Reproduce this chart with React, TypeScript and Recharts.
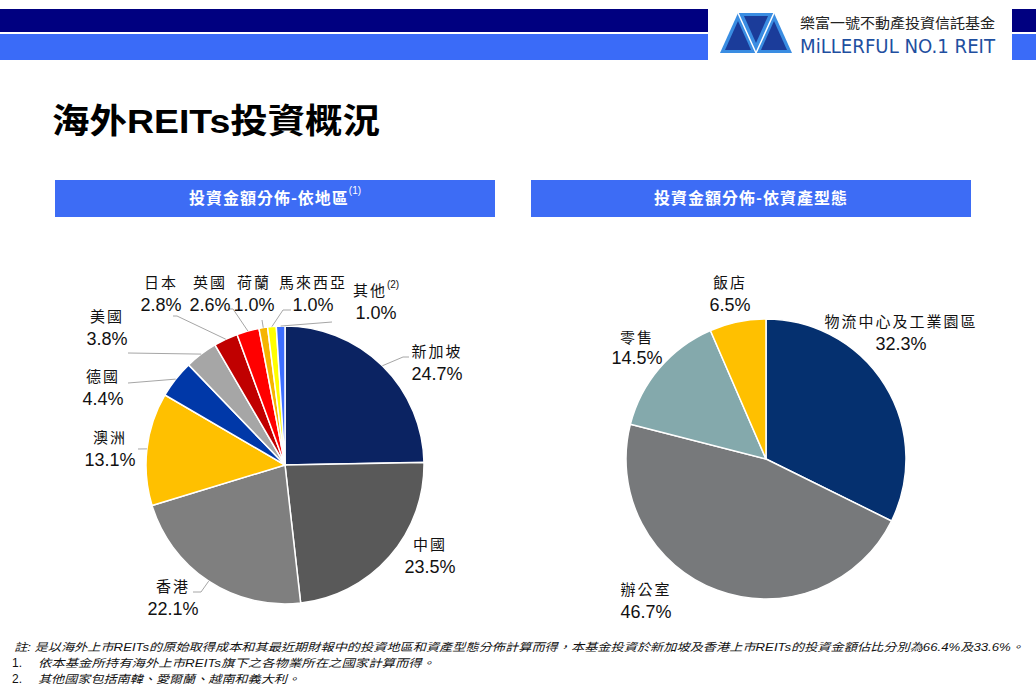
import { PieChart, Pie, Cell } from "recharts"

const regionNames = ["新加坡", "中國", "香港", "澳洲", "德國", "美國", "日本", "英國", "荷蘭", "馬來西亞", "其他"]
const regionShares = [24.7, 23.5, 22.1, 13.1, 4.4, 3.8, 2.8, 2.6, 1.0, 1.0, 1.0]
const assetNames = ["物流中心及工業園區", "辦公室", "零售", "飯店"]
const assetShares = [32.3, 46.7, 14.5, 6.5]

const regionColors = ["#0B2362", "#595959", "#7F7F7F", "#FFC000", "#0038A8", "#A6A6A6", "#C00000", "#FF0000", "#F5B400", "#FFFF00", "#3D6EFF"]
const assetColors = ["#05306F", "#77797B", "#84A9AC", "#FFC000"]

const regionData = regionNames.map((name, i) => ({ name, value: regionShares[i] }))
const assetData = assetNames.map((name, i) => ({ name, value: assetShares[i] }))

// label placement relative to the pie centre (Excel style best-fit), plus leader line bends
type LabelPos = { x: number; y: number; gap?: number; line?: number[][]; sup?: string }
const regionLabelPos: LabelPos[] = [
  { x: 152, y: -113, line: [[118, -108], [124, -108]] },
  { x: 145, y: 80 },
  { x: -112, y: 122, line: [[-84, 127], [-92, 127]] },
  { x: -175, y: -27, line: [[-147, -16]] },
  { x: -182, y: -88, line: [[-157, -82]] },
  { x: -178, y: -148, line: [[-157, -112]] },
  { x: -124, y: -182, line: [[-108, -149], [-112, -149]] },
  { x: -75, y: -182, line: [[-52, -156], [-56, -156]] },
  { x: -31, y: -182, line: [[-23, -145]] },
  { x: 28, y: -182, line: [[-2, -155], [6, -155]] },
  { x: 91, y: -174, line: [[47, -143]], sup: "(2)" },
]
const assetLabelPos: LabelPos[] = [
  { x: 135, y: -137 },
  { x: -120, y: 131 },
  { x: -129, y: -121, gap: 20 },
  { x: -36, y: -176 },
]

const CJK = "'Noto Sans CJK TC', sans-serif"
const LATIN = "'Liberation Sans', 'Noto Sans CJK TC', sans-serif"
const RAD = Math.PI / 180

function makeLabel(layout: LabelPos[]) {
  return (props: any) => {
    const { cx, cy, midAngle, outerRadius, index, name, value } = props
    const p = layout[index]
    const sx = cx + outerRadius * Math.cos(-midAngle * RAD)
    const sy = cy + outerRadius * Math.sin(-midAngle * RAD)
    const pts = [[sx, sy], ...(p.line || []).map(([dx, dy]) => [cx + dx, cy + dy])]
    const gap = p.gap ?? 22
    return (
      <g key={`lbl-${index}`}>
        {p.line && (
          <polyline
            points={pts.map((q) => q.join(",")).join(" ")}
            fill="none"
            stroke="#A6A6A6"
            strokeWidth={1}
          />
        )}
        <text x={cx + p.x} y={cy + p.y + 5} textAnchor="middle" fontFamily={CJK} fontSize={15} letterSpacing={2} fill="#111">
          {name}
          {p.sup && (
            <tspan fontFamily={LATIN} fontSize={10} dy={-8} letterSpacing={0}>
              {p.sup}
            </tspan>
          )}
        </text>
        <text x={cx + p.x} y={cy + p.y + gap + 6} textAnchor="middle" fontFamily={LATIN} fontSize={18} fill="#111">
          {value.toFixed(1)}%
        </text>
      </g>
    )
  }
}

function Decor() {
  return (
    <svg width={1036} height={688} style={{ position: "absolute", left: 0, top: 0 }}>
      {/* header bars */}
      <rect x={0} y={9} width={708} height={23} fill="#000080" />
      <rect x={0} y={34} width={708} height={26} fill="#3A6BF8" />
      <rect x={1012} y={9} width={24} height={23} fill="#000080" />
      <rect x={1012} y={34} width={24} height={26} fill="#3A6BF8" />
      {/* logo */}
      <polygon points="720,53 738,13 756,53" fill="#3A8DE2" />
      <polygon points="738,13 774,13 756,53" fill="#3A8DE2" />
      <polygon points="756,53 774,13 792,53" fill="#3A8DE2" />
      <polygon points="725,50 738,21 751,50" fill="#1B3C9A" />
      <polygon points="744,16 768,16 756,43" fill="#1B3C9A" />
      <polygon points="761,50 774,21 787,50" fill="#1B3C9A" />
      <polyline points="738,13 756,53 774,13" fill="none" stroke="#fff" strokeWidth={1.5} />
      <text x={800} y={28} fontFamily={CJK} fontSize={14} fill="#222" textLength={195} lengthAdjust="spacingAndGlyphs">
        樂富一號不動產投資信託基金
      </text>
      <text x={800} y={53} fontFamily="'DejaVu Sans Condensed', 'DejaVu Sans', sans-serif" fontSize={20} fill="#1F4FA0" textLength={195} lengthAdjust="spacingAndGlyphs">
        MiLLERFUL NO.1 REIT
      </text>
      {/* title */}
      <text x={52} y={133} fontFamily={LATIN} fontWeight={700} fontSize={34} fill="#000" textLength={328} lengthAdjust="spacingAndGlyphs">
        海外REITs投資概況
      </text>
      {/* section boxes */}
      <rect x={55} y={180} width={440} height={37} fill="#3D6CF5" />
      <text x={275} y={204} textAnchor="middle" fontFamily={CJK} fontWeight={700} fontSize={16} fill="#fff" letterSpacing={1}>
        投資金額分佈-依地區
        <tspan fontFamily={LATIN} fontWeight={400} fontSize={10} dy={-10} letterSpacing={0}>(1)</tspan>
      </text>
      <rect x={531} y={180} width={440} height={37} fill="#3D6CF5" />
      <text x={751} y={204} textAnchor="middle" fontFamily={CJK} fontWeight={700} fontSize={16} fill="#fff" letterSpacing={1}>
        投資金額分佈-依資產型態
      </text>
      {/* footnotes */}
      <text x={14} y={651} fontFamily={LATIN} fontStyle="italic" fontSize={11} fill="#111" textLength={1010} lengthAdjust="spacingAndGlyphs">
        註: 是以海外上市REITs的原始取得成本和其最近期財報中的投資地區和資產型態分佈計算而得，本基金投資於新加坡及香港上市REITs的投資金額佔比分別為66.4%及33.6%。
      </text>
      <text x={12} y={667} fontFamily={LATIN} fontSize={12} fill="#111">1.</text>
      <text x={38} y={667} fontFamily={LATIN} fontStyle="italic" fontSize={11} fill="#111" textLength={397} lengthAdjust="spacingAndGlyphs">
        依本基金所持有海外上市REITs旗下之各物業所在之國家計算而得。
      </text>
      <text x={12} y={683} fontFamily={LATIN} fontSize={12} fill="#111">2.</text>
      <text x={38} y={683} fontFamily={LATIN} fontStyle="italic" fontSize={11} fill="#111" textLength={262} lengthAdjust="spacingAndGlyphs">
        其他國家包括南韓、愛爾蘭、越南和義大利。
      </text>
    </svg>
  )
}

export default function App() {
  return (
    <div style={{ position: "relative", width: 1036, height: 688, background: "#fff", overflow: "hidden" }}>
      <style>{"body{margin:0}"}</style>
      <Decor />
      <div style={{ position: "absolute", left: 0, top: 0 }}>
        <PieChart width={1036} height={688} margin={{ top: 0, right: 0, bottom: 0, left: 0 }}>
          <Pie
            data={regionData}
            dataKey="value"
            nameKey="name"
            cx={285}
            cy={465}
            outerRadius={139}
            startAngle={90}
            endAngle={-270}
            stroke="#fff"
            strokeWidth={1.5}
            labelLine={false}
            label={makeLabel(regionLabelPos)}
            isAnimationActive={false}
          >
            {regionData.map((d, i) => (
              <Cell key={d.name} fill={regionColors[i]} />
            ))}
          </Pie>
          <Pie
            data={assetData}
            dataKey="value"
            nameKey="name"
            cx={766}
            cy={459}
            outerRadius={140}
            startAngle={90}
            endAngle={-270}
            stroke="#fff"
            strokeWidth={1.5}
            labelLine={false}
            label={makeLabel(assetLabelPos)}
            isAnimationActive={false}
          >
            {assetData.map((d, i) => (
              <Cell key={d.name} fill={assetColors[i]} />
            ))}
          </Pie>
        </PieChart>
      </div>
    </div>
  )
}
